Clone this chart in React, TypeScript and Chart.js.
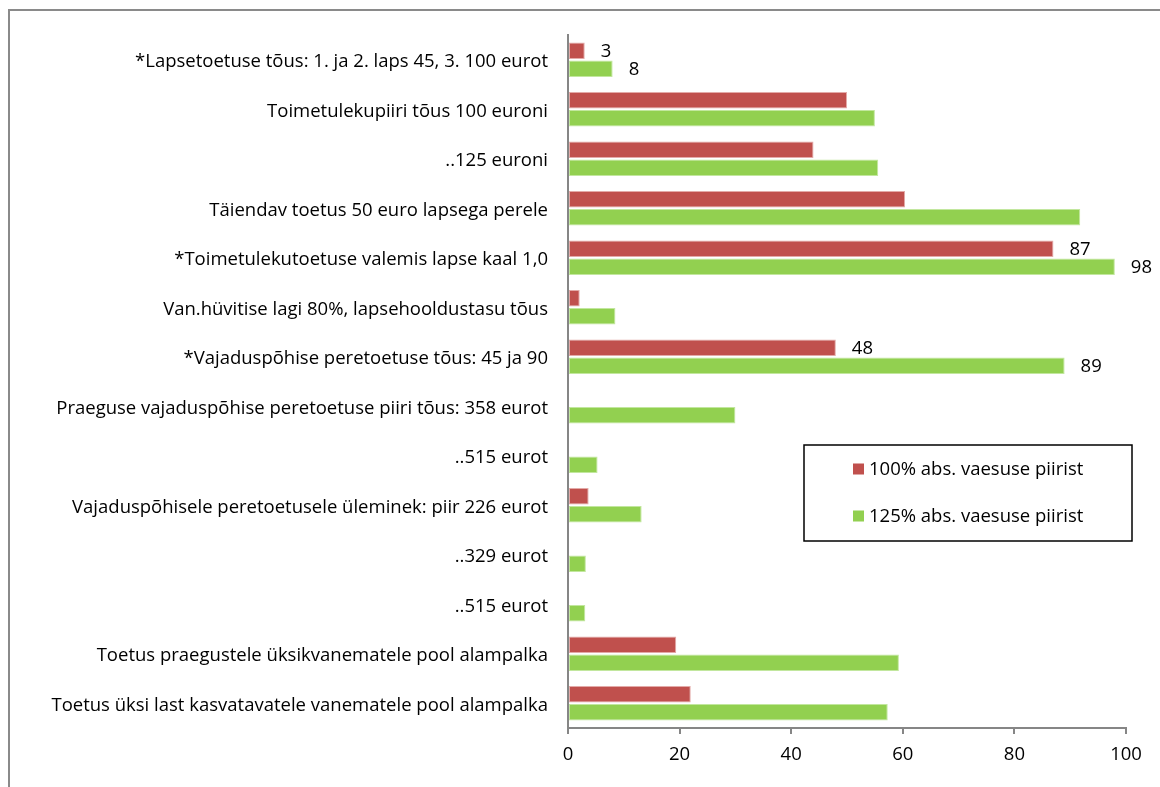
import React, { useEffect, useRef } from "react";
import { Chart, registerables } from "chart.js";

Chart.register(...registerables);

const categories: string[] = [
  "*Lapsetoetuse tõus: 1. ja 2. laps 45, 3. 100 eurot",
  "Toimetulekupiiri tõus 100 euroni",
  "..125 euroni",
  "Täiendav toetus 50 euro lapsega perele",
  "*Toimetulekutoetuse valemis lapse kaal 1,0",
  "Van.hüvitise lagi 80%, lapsehooldustasu tõus",
  "*Vajaduspõhise peretoetuse tõus: 45 ja 90",
  "Praeguse vajaduspõhise peretoetuse piiri tõus: 358 eurot",
  "..515 eurot",
  "Vajaduspõhisele peretoetusele üleminek: piir 226 eurot",
  "..329 eurot",
  "..515 eurot",
  "Toetus praegustele üksikvanematele pool alampalka",
  "Toetus üksi last kasvatavatele vanematele pool alampalka",
];

const series100: number[] = [3, 50, 44, 60.4, 87, 2.1, 48, 0, 0, 3.7, 0, 0, 19.4, 22.0];
const series125: number[] = [8, 55, 55.6, 91.8, 98, 8.5, 89, 30, 5.3, 13.2, 3.2, 3.1, 59.3, 57.3];

const seriesNames: string[] = ["100% abs. vaesuse piirist", "125% abs. vaesuse piirist"];
const labelledRows: number[] = [0, 4, 6];
const xTicks: number[] = [0, 20, 40, 60, 80, 100];

const FONT = "'Open Sans'";
const FS = 18.5;
const RED = "#C0504D";
const GREEN = "#92D050";

const valueLabels = {
  id: "valueLabels",
  afterDatasetsDraw(chart: any) {
    const ctx = chart.ctx;
    ctx.save();
    ctx.font = `${FS}px ${FONT}`;
    ctx.fillStyle = "#000";
    ctx.textAlign = "left";
    ctx.textBaseline = "middle";
    chart.data.datasets.forEach((ds: any, di: number) => {
      const meta = chart.getDatasetMeta(di);
      labelledRows.forEach((r) => {
        const el = meta.data[r];
        if (!el) return;
        ctx.fillText(String(ds.data[r]), el.x + 16, el.y + 1);
      });
    });
    ctx.restore();
  },
};

const boxLegend = {
  id: "boxLegend",
  afterDraw(chart: any) {
    const ctx = chart.ctx;
    ctx.save();
    ctx.strokeStyle = "#000";
    ctx.lineWidth = 1.5;
    ctx.strokeRect(804, 445, 328, 96);
    ctx.font = `${FS}px ${FONT}`;
    ctx.textAlign = "left";
    ctx.textBaseline = "middle";
    const ys = [469, 516];
    chart.data.datasets.forEach((ds: any, i: number) => {
      ctx.fillStyle = ds.backgroundColor;
      ctx.fillRect(853, ys[i] - 5.5, 11, 11);
      ctx.fillStyle = "#000";
      ctx.fillText(ds.label, 869, ys[i] + 1);
    });
    ctx.restore();
  },
};

export default function App() {
  const ref = useRef<HTMLCanvasElement | null>(null);
  useEffect(() => {
    if (!ref.current) return;
    const chart = new Chart(ref.current, {
      type: "bar",
      data: {
        labels: categories,
        datasets: [
          {
            label: seriesNames[0],
            data: series100,
            backgroundColor: RED,
            borderColor: "#E3AAA8",
            borderWidth: 1,
            borderSkipped: false,
            barPercentage: 0.91,
            categoryPercentage: 0.73,
          },
          {
            label: seriesNames[1],
            data: series125,
            backgroundColor: GREEN,
            borderColor: "#C2E79E",
            borderWidth: 1,
            borderSkipped: false,
            barPercentage: 0.91,
            categoryPercentage: 0.73,
          },
        ],
      },
      options: {
        indexAxis: "y",
        responsive: false,
        animation: false,
        devicePixelRatio: 1,
        layout: { padding: { top: 35, right: 34, left: 0, bottom: 0 } },
        plugins: { legend: { display: false }, tooltip: { enabled: false } },
        scales: {
          x: {
            min: 0,
            max: 100,
            afterBuildTicks: (scale: any) => {
              scale.ticks = xTicks.map((v) => ({ value: v }));
            },
            afterFit: (scale: any) => {
              scale.height = 59;
            },
            grid: { drawOnChartArea: false, drawTicks: true, tickLength: 6, color: "#868686", lineWidth: 2 },
            border: { color: "#868686", width: 2 },
            ticks: { color: "#000", font: { family: FONT, size: FS }, padding: 10, maxRotation: 0 },
          },
          y: {
            afterFit: (scale: any) => {
              scale.width = 568;
            },
            grid: { display: false, drawTicks: false },
            border: { color: "#868686", width: 2 },
            ticks: { color: "#000", font: { family: FONT, size: FS }, padding: 20, labelOffset: 2, autoSkip: false },
          },
        },
      },
      plugins: [valueLabels, boxLegend],
    });
    return () => chart.destroy();
  }, []);

  return (
    <div>
      <div
        style={{
          position: "fixed",
          left: 8,
          top: 9,
          width: 1300,
          height: 1000,
          border: "2px solid #8A8A8A",
          boxSizing: "border-box",
        }}
      />
      <div style={{ position: "fixed", left: 0, top: 0, width: 1160, height: 787 }}>
        <canvas ref={ref} width={1160} height={787} />
      </div>
    </div>
  );
}
